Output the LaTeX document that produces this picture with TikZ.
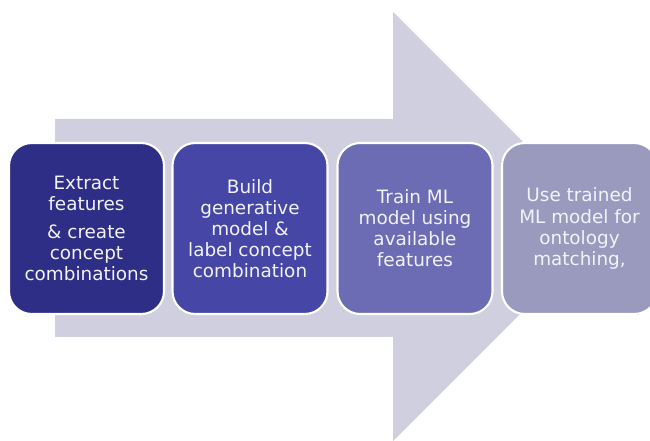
\documentclass[tikz,border=0pt]{standalone}
\usepackage{fontspec}
\setmainfont{DejaVu Sans}
\definecolor{arrowc}{HTML}{CFCFE0}
\definecolor{boxa}{HTML}{2E2E87}
\definecolor{boxb}{HTML}{4646A6}
\definecolor{boxc}{HTML}{6C6CB4}
\definecolor{boxd}{HTML}{9A9ABE}
\definecolor{txt}{HTML}{F2F2FA}
\begin{document}
\begin{tikzpicture}[x=0.75pt,y=-0.75pt,
  stepbox/.style={draw=white,line width=1.6pt,rounded corners=17pt,
    minimum width=116.25pt,minimum height=128.25pt,inner sep=0pt,
    align=center,text=txt,font=\fontsize{13.8}{15.8}\selectfont}]
\useasboundingbox (0,0) rectangle (650,441);
\fill[arrowc] (55,119) -- (393,119) -- (393,12) -- (607.5,226.5) -- (393,441) -- (393,337) -- (55,337) -- cycle;
\node[stepbox,fill=boxa] (s1) at (86.5,228.5) {Extract\\features\\[5pt]\& create\\concept\\combinations};
\node[stepbox,fill=boxb] (s2) at (250,228.5) {Build\\generative\\model \&\\label concept\\combination};
\node[stepbox,fill=boxc] (s3) at (415,228.5) {Train ML\\model using\\available\\features};
\node[stepbox,fill=boxd] (s4) at (579.5,228.5) {Use trained\\ML model for\\ontology\\matching,};
\end{tikzpicture}
\end{document}
